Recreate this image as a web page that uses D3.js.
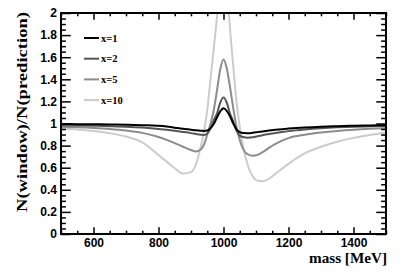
<!DOCTYPE html>
<html>
<head>
<meta charset="utf-8">
<script src="https://cdn.jsdelivr.net/npm/d3@7"></script>
<style>
  body { margin: 0; background: #fff; }
  .tick text { font-family: "Liberation Sans", Arial, sans-serif; font-weight: bold; font-size: 12px; fill: #000; }
  .tick line { stroke: #000; stroke-width: 1.5; }
  .title { font-family: "Liberation Serif", "Times New Roman", serif; font-weight: bold; fill: #000; }
</style>
</head>
<body>
<script>
// mass points (MeV)
var masses = [500, 550, 600, 650, 700, 750, 800, 825, 850, 875, 900, 915, 930, 940, 950, 960, 970, 980, 990, 1000,
              1010, 1020, 1030, 1040, 1050, 1060, 1075, 1090, 1105, 1120, 1140, 1160, 1180, 1200, 1250, 1300, 1350, 1400, 1450, 1500];

// N(window)/N(prediction) for each x
var ratioX1 = [0.995, 0.994, 0.993, 0.991, 0.989, 0.985, 0.979, 0.972, 0.962, 0.952, 0.944, 0.939, 0.935, 0.933, 0.936, 0.958, 0.995, 1.055, 1.11, 1.138,
               1.115, 1.065, 1.0, 0.948, 0.921, 0.913, 0.912, 0.916, 0.922, 0.928, 0.936, 0.943, 0.949, 0.954, 0.964, 0.971, 0.976, 0.980, 0.983, 0.985];
var ratioX2 = [0.985, 0.983, 0.980, 0.976, 0.971, 0.963, 0.951, 0.943, 0.934, 0.924, 0.913, 0.905, 0.898, 0.897, 0.91, 0.955, 1.03, 1.09, 1.19, 1.235,
               1.19, 1.09, 1.02, 0.935, 0.892, 0.877, 0.872, 0.876, 0.884, 0.893, 0.904, 0.914, 0.923, 0.931, 0.946, 0.957, 0.965, 0.971, 0.975, 0.978];
var ratioX5 = [0.97, 0.966, 0.96, 0.951, 0.937, 0.915, 0.878, 0.852, 0.822, 0.79, 0.76, 0.747, 0.765, 0.81, 0.90, 1.0, 1.12, 1.30, 1.49, 1.58,
               1.50, 1.33, 1.14, 0.97, 0.85, 0.77, 0.72, 0.708, 0.716, 0.74, 0.78, 0.815, 0.845, 0.868, 0.898, 0.918, 0.933, 0.944, 0.952, 0.958];
var ratioX10 = [0.955, 0.945, 0.932, 0.912, 0.882, 0.83, 0.715, 0.655, 0.595, 0.547, 0.56, 0.63, 0.79, 0.93, 1.12, 1.40, 1.68, 1.97, 2.35, 2.6,
                2.3, 1.86, 1.52, 1.2, 0.97, 0.80, 0.62, 0.52, 0.482, 0.478, 0.50, 0.545, 0.59, 0.635, 0.73, 0.79, 0.835, 0.87, 0.895, 0.918];

var legendLabels = ["x=1", "x=2", "x=5", "x=10"];
var lineColors = ["#000000", "#555555", "#8c8c8c", "#cccccc"];
var xTicks = [600, 800, 1000, 1200, 1400];
var yTicks = [0, 0.2, 0.4, 0.6, 0.8, 1, 1.2, 1.4, 1.6, 1.8, 2];

window.onload = function(){
    var w = 407, h = 276;
    var left = 61, right = 386, top = 13, bottom = 234;

    var svg = d3.select("body").append("svg")
        .attr("width", w)
        .attr("height", h);

    var x = d3.scaleLinear().domain([500, 1500]).range([left, right]);
    var y = d3.scaleLinear().domain([0, 2]).range([bottom, top]);

    var xMinor = d3.range(500, 1501, 50).filter(function(d){ return xTicks.indexOf(d) < 0; });
    var yMinor = d3.range(0, 2.001, 0.05).filter(function(d){ return Math.abs(Math.round(d * 5) - d * 5) > 1e-6; });

    var xLen = 0.03 * (bottom - top), yLen = 0.03 * (right - left);

    // clip curves to the frame
    svg.append("clipPath").attr("id", "plotclip")
        .append("rect")
        .attr("x", left).attr("y", top)
        .attr("width", right - left).attr("height", bottom - top);

    // curves, lightest first
    var line = d3.line()
        .x(function(d){ return x(d[0]); })
        .y(function(d){ return y(d[1]); })
        .curve(d3.curveMonotoneX);

    var series = [ratioX1, ratioX2, ratioX5, ratioX10];
    var order = [3, 2, 1, 0];
    order.forEach(function(i){
        svg.append("path")
            .datum(masses.map(function(m, j){ return [m, series[i][j]]; }))
            .attr("clip-path", "url(#plotclip)")
            .attr("d", line)
            .attr("fill", "none")
            .attr("stroke", lineColors[i])
            .attr("stroke-width", 2);
    });

    // axes: ticks point inwards on all four sides
    svg.append("g").attr("transform", "translate(0," + bottom + ")")
        .call(d3.axisBottom(x).tickValues(xTicks).tickSize(-xLen).tickPadding(4.5).tickFormat(d3.format("d")));
    svg.append("g").attr("transform", "translate(0," + bottom + ")")
        .call(d3.axisBottom(x).tickValues(xMinor).tickSize(-xLen / 2).tickFormat(""));
    svg.append("g").attr("transform", "translate(0," + top + ")")
        .call(d3.axisTop(x).tickValues(xTicks).tickSize(-xLen).tickFormat(""));
    svg.append("g").attr("transform", "translate(0," + top + ")")
        .call(d3.axisTop(x).tickValues(xMinor).tickSize(-xLen / 2).tickFormat(""));

    svg.append("g").attr("transform", "translate(" + left + ",0)")
        .call(d3.axisLeft(y).tickValues(yTicks).tickSize(-yLen).tickPadding(4).tickFormat(d3.format("~g")));
    svg.append("g").attr("transform", "translate(" + left + ",0)")
        .call(d3.axisLeft(y).tickValues(yMinor).tickSize(-yLen / 2).tickFormat(""));
    svg.append("g").attr("transform", "translate(" + right + ",0)")
        .call(d3.axisRight(y).tickValues(yTicks).tickSize(-yLen).tickFormat(""));
    svg.append("g").attr("transform", "translate(" + right + ",0)")
        .call(d3.axisRight(y).tickValues(yMinor).tickSize(-yLen / 2).tickFormat(""));

    svg.selectAll(".domain").remove();

    // frame
    svg.append("rect")
        .attr("x", left).attr("y", top)
        .attr("width", right - left).attr("height", bottom - top)
        .attr("fill", "none")
        .attr("stroke", "#000")
        .attr("stroke-width", 2);

    // axis titles
    svg.append("text")
        .attr("class", "title")
        .attr("text-anchor", "end")
        .attr("x", right + 1)
        .attr("y", 263)
        .style("font-size", "14px")
        .attr("textLength", 78)
        .attr("lengthAdjust", "spacingAndGlyphs")
        .text("mass [MeV]");

    svg.append("text")
        .attr("class", "title")
        .attr("text-anchor", "end")
        .attr("transform", "translate(27," + (top - 1) + ") rotate(-90)")
        .style("font-size", "15px")
        .attr("textLength", 200)
        .attr("lengthAdjust", "spacingAndGlyphs")
        .text("N(window)/N(prediction)");

    // legend
    var legend = svg.selectAll(".legend")
        .data(legendLabels)
        .enter()
        .append("g")
        .attr("class", "legend")
        .attr("transform", function(d, i){ return "translate(84," + (38 + i * 20.7) + ")"; });

    legend.append("line")
        .attr("x1", 0).attr("x2", 15)
        .attr("stroke", function(d, i){ return lineColors[i]; })
        .attr("stroke-width", 2);

    legend.append("text")
        .attr("class", "title")
        .attr("x", 17)
        .attr("y", 3.5)
        .style("font-size", "10.5px")
        .text(function(d){ return d; });
};
</script>
</body>
</html>
